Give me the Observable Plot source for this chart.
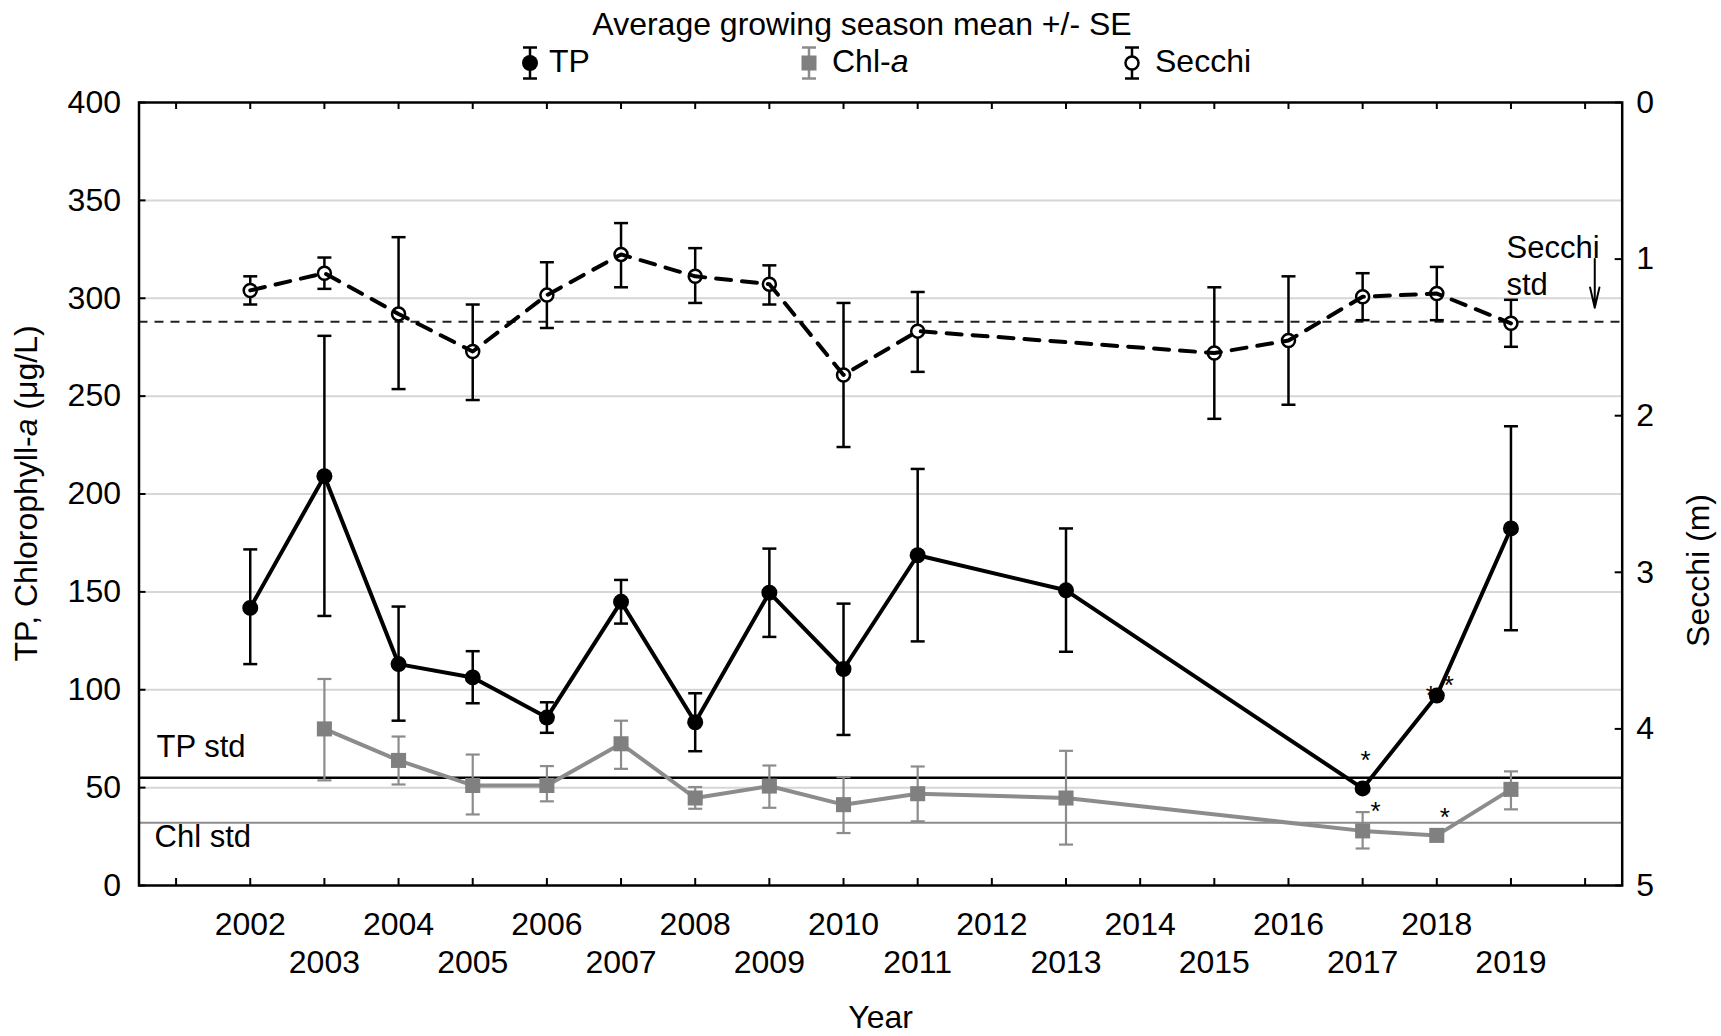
<!DOCTYPE html>
<html>
<head>
<meta charset="utf-8">
<script src="https://cdn.jsdelivr.net/npm/d3@7"></script>
<script src="https://cdn.jsdelivr.net/npm/@observablehq/plot@0.6"></script>
<style>
  html, body { margin: 0; padding: 0; background: #fff; overflow: hidden; }
  #page { position: relative; width: 1721px; height: 1036px; font-family: "Liberation Sans", Arial, sans-serif; color: #000; }
  #title { position: absolute; top: 8px; left: 862px; transform: translateX(-50%); font-size: 32px; line-height: 32px; white-space: nowrap; }
  .key-icon { position: absolute; top: 46px; }
  .key-text { position: absolute; top: 45px; font-size: 32px; line-height: 32px; white-space: nowrap; }
  #chart { position: absolute; top: 80px; left: 0; }
</style>
</head>
<body>
<div id="page">
  <div id="title">Average growing season mean +/- SE</div>
  <svg class="key-icon" style="left:520px" width="20" height="34">
    <g stroke="#000" stroke-width="2.5"><line x1="10" y1="1.5" x2="10" y2="32.5"/><line x1="3" y1="1.5" x2="17" y2="1.5"/><line x1="3" y1="32.5" x2="17" y2="32.5"/></g>
    <circle cx="10" cy="17" r="8" fill="#000"/>
  </svg>
  <div class="key-text" style="left:549px">TP</div>
  <svg class="key-icon" style="left:799px" width="20" height="34">
    <g stroke="#8c8c8c" stroke-width="2.5"><line x1="10" y1="1.5" x2="10" y2="32.5"/><line x1="3" y1="1.5" x2="17" y2="1.5"/><line x1="3" y1="32.5" x2="17" y2="32.5"/></g>
    <rect x="2.5" y="9.5" width="15" height="15" fill="#808080"/>
  </svg>
  <div class="key-text" style="left:832px">Chl-<i>a</i></div>
  <svg class="key-icon" style="left:1122px" width="20" height="34">
    <g stroke="#000" stroke-width="2.5"><line x1="10" y1="1.5" x2="10" y2="32.5"/><line x1="3" y1="1.5" x2="17" y2="1.5"/><line x1="3" y1="32.5" x2="17" y2="32.5"/></g>
    <circle cx="10" cy="17" r="6.5" fill="#fff" stroke="#000" stroke-width="2.5"/>
  </svg>
  <div class="key-text" style="left:1155px">Secchi</div>
  <div id="chart"></div>
</div>
<script>
// Total phosphorus (µg/L): growing-season mean and mean ± SE
const tpYears = [2002, 2003, 2004, 2005, 2006, 2007, 2008, 2009, 2010, 2011, 2013, 2017, 2018, 2019];
const tpMean  = [141.8, 209.1, 113.1, 106.3, 85.8, 144.9, 83.4, 149.6, 110.6, 168.7, 150.8, 49.6, 97.0, 182.4];
const tpLow   = [113.1, 137.7, 84.2, 93.1, 78.0, 133.8, 68.6, 127.0, 76.9, 124.7, 119.4, null, null, 130.4];
const tpHigh  = [171.7, 280.8, 142.5, 119.7, 93.6, 156.1, 98.2, 172.1, 144.0, 212.8, 182.4, null, null, 234.6];

// Chlorophyll-a (µg/L)
const chlYears = [2003, 2004, 2005, 2006, 2007, 2008, 2009, 2010, 2011, 2013, 2017, 2018, 2019];
const chlMean  = [80.0, 63.9, 51.1, 51.1, 72.4, 44.7, 50.8, 41.3, 46.9, 44.7, 27.9, 25.6, 49.1];
const chlLow   = [53.7, 51.6, 36.3, 43.0, 59.6, 39.2, 39.7, 26.8, 32.8, 20.9, 18.9, null, 38.9];
const chlHigh  = [105.5, 76.1, 66.9, 61.0, 84.2, 50.3, 61.3, 55.4, 60.8, 68.8, 37.5, null, 58.3];

// Secchi depth (m)
const secchiYears   = [2002, 2003, 2004, 2005, 2006, 2007, 2008, 2009, 2010, 2011, 2015, 2016, 2017, 2018, 2019];
const secchiMean    = [1.20, 1.09, 1.35, 1.59, 1.23, 0.97, 1.11, 1.16, 1.74, 1.46, 1.60, 1.52, 1.24, 1.22, 1.41];
const secchiShallow = [1.11, 0.99, 0.86, 1.29, 1.02, 0.77, 0.93, 1.04, 1.28, 1.21, 1.18, 1.11, 1.09, 1.05, 1.26];
const secchiDeep    = [1.29, 1.19, 1.83, 1.90, 1.44, 1.18, 1.28, 1.29, 2.20, 1.72, 2.02, 1.93, 1.39, 1.39, 1.56];

// Water-quality standards
const tpStd = 55;       // µg/L
const chlStd = 32;      // µg/L
const secchiStd = 1.4;  // m

// Years flagged with significance stars
const tpStarYears  = [2017, 2018, 2018];
const chlStarYears = [2017, 2018];

// Axis ticks
const leftTicks   = [0, 50, 100, 150, 200, 250, 300, 350, 400];
const gridValues  = [50, 100, 150, 200, 250, 300, 350];
const secchiTicks = [0, 1, 2, 3, 4, 5];
const yearTicks   = [2001, 2002, 2003, 2004, 2005, 2006, 2007, 2008, 2009, 2010,
                     2011, 2012, 2013, 2014, 2015, 2016, 2017, 2018, 2019, 2020];
const evenYearLabels = [2002, 2004, 2006, 2008, 2010, 2012, 2014, 2016, 2018];
const oddYearLabels  = [2003, 2005, 2007, 2009, 2011, 2013, 2015, 2017, 2019];

// Secchi shares the plot area on an inverted 0–5 m scale (right axis)
const toLeft = s => 400 - 80 * s;
const fromLeft = v => (400 - v) / 80;

const tp = tpYears.map((year, i) => ({year, mean: tpMean[i], lo: tpLow[i], hi: tpHigh[i]}));
const chl = chlYears.map((year, i) => ({year, mean: chlMean[i], lo: chlLow[i], hi: chlHigh[i]}));
const secchi = secchiYears.map((year, i) => ({year, mean: toLeft(secchiMean[i]), lo: toLeft(secchiDeep[i]), hi: toLeft(secchiShallow[i])}));
const tpErr = tp.filter(d => d.lo != null);
const chlErr = chl.filter(d => d.lo != null);

const FONT = '"Liberation Sans", Arial, sans-serif';
const W = 1721, H = 956;
const M = {left: 138.5, right: 99.3, top: 22, bottom: 151};
const innerW = W - M.left - M.right;
const innerH = H - M.top - M.bottom;

// Flat horizontal cap for error bars
const cap = {draw(ctx) { ctx.moveTo(-7, 0); ctx.lineTo(7, 0); }};

function errorBars(data, color, width) {
  return [
    Plot.ruleX(data, {x: "year", y1: "lo", y2: "hi", stroke: color, strokeWidth: width}),
    Plot.dot(data, {x: "year", y: "lo", symbol: cap, r: 5, stroke: color, strokeWidth: width, fill: "none"}),
    Plot.dot(data, {x: "year", y: "hi", symbol: cap, r: 5, stroke: color, strokeWidth: width, fill: "none"})
  ];
}

const tpStarOffsets = [[3, -28], [-6, 0], [12, -10]];
const chlStarOffsets = [[13, -19], [8, -18]];
const tpValue = y => tp.find(d => d.year === y).mean;
const chlValue = y => chl.find(d => d.year === y).mean;

const secchiNoteYear = 2020.13;   // arrow position for the Secchi standard note
const secchiNoteDepth = 1.0;      // level where the note sits

const svg = Plot.plot({
  width: W, height: H,
  marginLeft: M.left, marginRight: M.right, marginTop: M.top, marginBottom: M.bottom,
  style: {fontFamily: FONT, fontSize: "32px", color: "#000", background: "transparent"},
  x: {domain: [2000.5, 2020.5]},
  y: {domain: [0, 400]},
  marks: [
    Plot.ruleY(gridValues, {stroke: "#d6d6d6", strokeWidth: 2}),
    Plot.ruleY([tpStd], {stroke: "#000", strokeWidth: 2.5}),
    Plot.ruleY([chlStd], {stroke: "#8c8c8c", strokeWidth: 2}),
    Plot.ruleY([secchiStd], {y: toLeft, stroke: "#222", strokeWidth: 2, strokeDasharray: "9,7"}),

    // inward ticks on all four sides
    Plot.tickX(yearTicks, {x: d => d, insetTop: innerH - 7, stroke: "#000", strokeWidth: 2}),
    Plot.tickX(yearTicks, {x: d => d, insetBottom: innerH - 7, stroke: "#000", strokeWidth: 2}),
    Plot.tickY(leftTicks, {y: d => d, insetRight: innerW - 7, stroke: "#000", strokeWidth: 2}),
    Plot.tickY(secchiTicks, {y: toLeft, insetLeft: innerW - 7, stroke: "#000", strokeWidth: 2}),

    Plot.axisY({ticks: leftTicks, tickSize: 0, tickPadding: 18, label: null, tickFormat: d => String(d)}),
    Plot.axisY({anchor: "right", ticks: secchiTicks.map(toLeft), tickSize: 0, tickPadding: 14, label: null,
                tickFormat: v => String(Math.round(fromLeft(v)))}),
    Plot.axisX({ticks: evenYearLabels, tickSize: 0, tickPadding: 27, label: null, tickFormat: d => String(d)}),
    Plot.axisX({ticks: oddYearLabels, tickSize: 0, tickPadding: 65, label: null, tickFormat: d => String(d)}),

    // standard labels
    Plot.text([tpStd], {y: d => d, frameAnchor: "left", textAnchor: "start", lineAnchor: "bottom",
                        dx: 17.5, dy: -21, text: () => "TP std", fontSize: 31}),
    Plot.text([chlStd], {y: d => d, frameAnchor: "left", textAnchor: "start", lineAnchor: "bottom",
                         dx: 15.5, dy: 24, text: () => "Chl std", fontSize: 31}),
    Plot.text([secchiStd], {y: toLeft, frameAnchor: "right", textAnchor: "start", lineAnchor: "bottom",
                            dx: -115.7, dy: -26.7, lineHeight: 1.2, text: () => "Secchi\nstd", fontSize: 31}),
    Plot.arrow([secchiStd], {x1: secchiNoteYear, x2: secchiNoteYear, y1: () => toLeft(secchiNoteDepth), y2: toLeft,
                             insetEnd: 14, headAngle: 26, headLength: 19, stroke: "#000", strokeWidth: 2}),

    // significance stars
    ...tpStarYears.map((yr, i) => Plot.text([yr], {x: d => d, y: tpValue, text: () => "*", fontSize: 26,
                                                   dx: tpStarOffsets[i][0], dy: tpStarOffsets[i][1]})),
    ...chlStarYears.map((yr, i) => Plot.text([yr], {x: d => d, y: chlValue, text: () => "*", fontSize: 26,
                                                    dx: chlStarOffsets[i][0], dy: chlStarOffsets[i][1]})),

    // Chl-a series
    ...errorBars(chlErr, "#8c8c8c", 2.2),
    Plot.line(chl, {x: "year", y: "mean", stroke: "#8c8c8c", strokeWidth: 4}),
    Plot.dot(chl, {x: "year", y: "mean", symbol: "square", r: 8.5, fill: "#808080"}),

    // TP series
    ...errorBars(tpErr, "#000", 2.5),
    Plot.line(tp, {x: "year", y: "mean", stroke: "#000", strokeWidth: 4}),
    Plot.dot(tp, {x: "year", y: "mean", r: 8, fill: "#000"}),

    // Secchi series
    ...errorBars(secchi, "#000", 2.5),
    Plot.dot(secchi, {x: "year", y: "mean", r: 6.5, fill: "#fff", stroke: "#000", strokeWidth: 2.5}),
    Plot.line(secchi, {x: "year", y: "mean", stroke: "#000", strokeWidth: 4, strokeDasharray: "15,11"}),

    Plot.frame({stroke: "#000", strokeWidth: 2.5}),

    // axis titles
    Plot.text(["Year"], {frameAnchor: "bottom", lineAnchor: "bottom", dy: 142, text: d => d, fontSize: 32}),
    Plot.text(["Secchi (m)"], {frameAnchor: "right", rotate: -90, lineAnchor: "bottom", dx: 86.5, text: d => d, fontSize: 32})
  ]
});

// Left axis title with italic "a"
const yTitle = d3.select(svg).append("text")
  .attr("transform", `translate(37,${M.top + innerH / 2}) rotate(-90)`)
  .attr("text-anchor", "middle")
  .attr("font-size", 32)
  .attr("fill", "#000");
yTitle.append("tspan").text("TP, Chlorophyll-");
yTitle.append("tspan").attr("font-style", "italic").text("a");
yTitle.append("tspan").text(" (\u03bcg/L)");

document.getElementById("chart").appendChild(svg);
</script>
</body>
</html>
